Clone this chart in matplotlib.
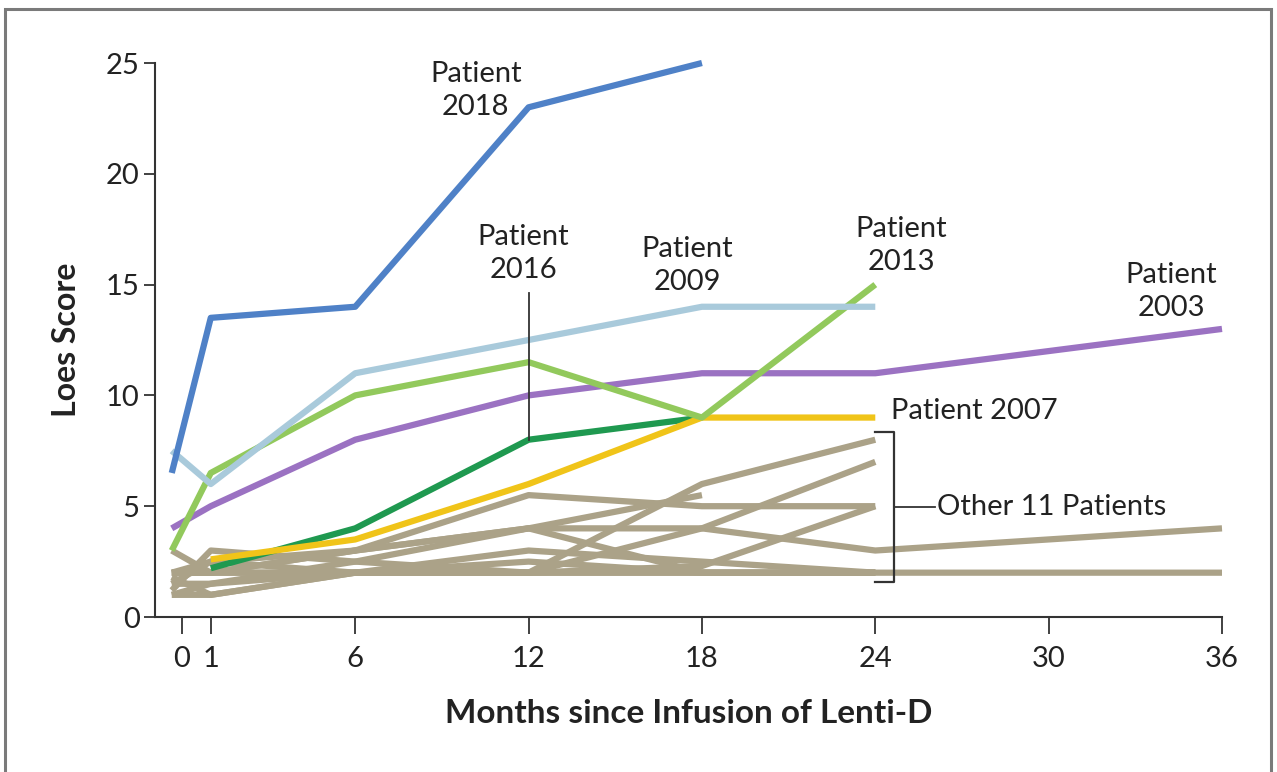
import matplotlib
matplotlib.use("Agg")
import matplotlib.pyplot as plt
from matplotlib.patches import Rectangle

plt.rcParams['font.family'] = ['Lato', 'DejaVu Sans']

# x position used for the baseline (month 0) measurement, drawn just left of the 0 tick
B = -0.35

# ---- Named patients ----
p2018_x = [B, 1, 6, 12, 18]
p2018_y = [6.5, 13.5, 14, 23, 25]

p2009_x = [B, 1, 6, 12, 18, 24]
p2009_y = [7.5, 6, 11, 12.5, 14, 14]

p2013_x = [B, 1, 6, 12, 18, 24]
p2013_y = [3, 6.5, 10, 11.5, 9, 15]

p2003_x = [B, 1, 6, 12, 18, 24, 36]
p2003_y = [4, 5, 8, 10, 11, 11, 13]

p2016_x = [1, 6, 12, 18]
p2016_y = [2.2, 4, 8, 9]

p2007_x = [1, 6, 12, 18, 24]
p2007_y = [2.6, 3.5, 6, 9, 9]

# ---- Other 11 patients ----
o1_x = [B, 1, 6, 12, 18, 24];      o1_y = [2.0, 2.0, 2.0, 2.0, 6.0, 8.0]
o2_x = [B, 1, 6, 12, 18];          o2_y = [1.5, 1.5, 2.5, 4.0, 5.5]
o3_x = [B, 1, 6, 12, 18, 24];      o3_y = [3.0, 2.0, 3.0, 5.5, 5.0, 5.0]
o4_x = [B, 1, 6, 12, 18, 24, 36];  o4_y = [2.0, 2.5, 3.0, 4.0, 4.0, 3.0, 4.0]
o5_x = [B, 1, 6, 12, 18, 24];      o5_y = [1.0, 1.0, 2.0, 2.0, 2.3, 5.0]
o6_x = [B, 1, 6, 12, 18, 24];      o6_y = [1.2, 3.0, 2.5, 2.0, 4.0, 7.0]
o7_x = [B, 1, 6, 12, 18, 24, 36];  o7_y = [2.0, 2.0, 3.0, 4.0, 2.0, 2.0, 2.0]
o8_x = [B, 1, 6, 12, 18, 24];      o8_y = [1.5, 2.5, 2.0, 3.0, 2.5, 2.0]
o9_x = [B, 1, 6, 12, 18, 24];      o9_y = [1.8, 1.0, 2.0, 2.0, 2.0, 2.0]
o10_x = [B, 1, 6, 12, 18, 24];     o10_y = [1.0, 1.5, 2.0, 2.0, 2.0, 2.0]
o11_x = [B, 1, 6, 12, 18, 24];     o11_y = [2.0, 2.0, 2.0, 2.5, 2.0, 2.0]

others = [(o1_x, o1_y), (o2_x, o2_y), (o3_x, o3_y), (o4_x, o4_y), (o5_x, o5_y),
          (o6_x, o6_y), (o7_x, o7_y), (o8_x, o8_y), (o9_x, o9_y), (o10_x, o10_y),
          (o11_x, o11_y)]

x_ticks = [0, 1, 6, 12, 18, 24, 30, 36]
y_ticks = [0, 5, 10, 15, 20, 25]

C_TAN = '#ABA288'
C_2018 = '#4F81C7'
C_2009 = '#A9CADB'
C_2013 = '#92C95C'
C_2003 = '#9B72C2'
C_2016 = '#1F9950'
C_2007 = '#F0C419'
C_AX = '#333333'
C_TXT = '#222222'

fig = plt.figure(figsize=(12.77, 7.72), dpi=100)
ax = fig.add_axes([155/1277, 1-617/772, (1222-155)/1277, (617-63)/772])

LW = 4.5
kw = dict(lw=LW, solid_capstyle='butt', clip_on=False)
for xs, ys in others:
    ax.plot(xs, ys, color=C_TAN, zorder=2, **kw)
ax.plot(p2016_x, p2016_y, color=C_2016, zorder=3, **kw)
ax.plot(p2007_x, p2007_y, color=C_2007, zorder=3, **kw)
ax.plot(p2003_x, p2003_y, color=C_2003, zorder=3, **kw)
ax.plot(p2013_x, p2013_y, color=C_2013, zorder=3, **kw)
ax.plot(p2009_x, p2009_y, color=C_2009, zorder=3, **kw)
ax.plot(p2018_x, p2018_y, color=C_2018, zorder=3, **kw)

ax.set_xlim(-0.93, 36)
ax.set_ylim(0, 25)
ax.set_xticks(x_ticks)
ax.set_yticks(y_ticks)
ax.tick_params(axis='x', direction='out', length=12, width=1.3, color=C_AX,
               labelsize=21, labelcolor=C_TXT, pad=9)
ax.tick_params(axis='y', direction='out', length=8, width=1.3, color=C_AX,
               labelsize=21, labelcolor=C_TXT, pad=3)
for s in ['top', 'right']:
    ax.spines[s].set_visible(False)
for s in ['left', 'bottom']:
    ax.spines[s].set_color(C_AX)
    ax.spines[s].set_linewidth(1.5)

ax.set_xlabel('Months since Infusion of Lenti-D', fontsize=24, fontweight='bold',
              color=C_TXT, labelpad=19)
ax.set_ylabel('Loes Score', fontsize=23, fontweight='bold', color=C_TXT, labelpad=18)

tk = dict(fontsize=21, color=C_TXT, ha='center', va='center', linespacing=1.35)
ax.text(10.17, 23.75, 'Patient\n2018', **tk)
ax.text(11.83, 16.4, 'Patient\n2016', **tk)
ax.text(17.5, 15.85, 'Patient\n2009', **tk)
ax.text(24.9, 16.75, 'Patient\n2013', **tk)
ax.text(34.25, 14.7, 'Patient\n2003', **tk)
ax.text(24.55, 9.3, 'Patient 2007', fontsize=21, color=C_TXT, ha='left', va='center')
ax.text(26.15, 4.96, 'Other 11 Patients', fontsize=21, color=C_TXT, ha='left', va='center')

# leader line for Patient 2016
ax.plot([12, 12], [8, 14.6], color=C_AX, lw=1.3, zorder=4)
# bracket for other patients
ax.plot([24.0, 24.65, 24.65, 24.0], [8.35, 8.35, 1.6, 1.6], color=C_AX, lw=1.6,
        clip_on=False, zorder=4)
ax.plot([24.65, 26.05], [4.96, 4.96], color=C_AX, lw=1.3, clip_on=False, zorder=4)

# outer frame
fig.patches.append(Rectangle((5/1277, -0.05), (1271-5)/1277, 1.05 - 9/772,
                             transform=fig.transFigure, fill=False,
                             edgecolor='#7a7a7a', lw=2.2, zorder=0))

fig.savefig('out.png', dpi=100)
